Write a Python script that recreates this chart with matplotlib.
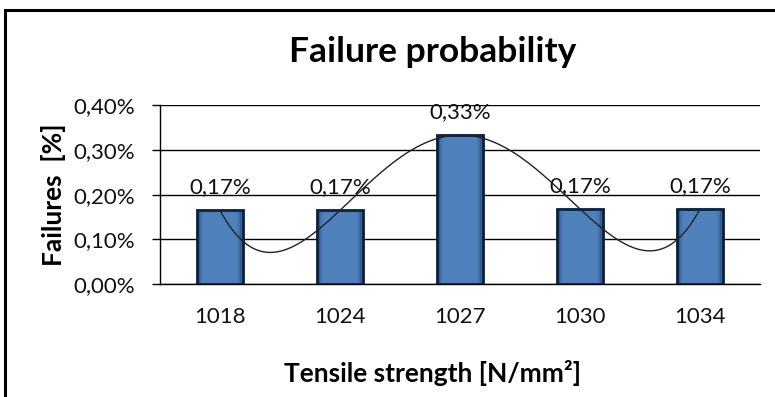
import numpy as np
import matplotlib
matplotlib.use("Agg")
import matplotlib.pyplot as plt
from matplotlib.patches import Rectangle

categories = ["1018", "1024", "1027", "1030", "1034"]
values = [0.165, 0.165, 0.333, 0.168, 0.168]
value_labels = ["0,17%", "0,17%", "0,33%", "0,17%", "0,17%"]
yticks = [0.0, 0.1, 0.2, 0.3, 0.4]
ytick_labels = ["0,00%", "0,10%", "0,20%", "0,30%", "0,40%"]
title = "Failure probability"
xlabel = "Tensile strength [N/mm²]"
ylabel = "Failures  [%]"

W, H = 775, 397
fig = plt.figure(figsize=(W / 100, H / 100), dpi=100)
fig.patch.set_facecolor("white")

ax = fig.add_axes([160 / W, 1 - 284.3 / H, 600 / W, (284.3 - 105) / H])
x = np.arange(len(categories))

ax.set_ylim(0, 0.4)
ax.set_xlim(-0.5, len(categories) - 0.5)
ax.set_yticks(yticks)
ax.set_yticklabels(ytick_labels)
ax.yaxis.grid(True, color="black", linewidth=1.0)
ax.set_axisbelow(True)
for s in ["top", "right"]:
    ax.spines[s].set_visible(False)
ax.spines["left"].set_linewidth(1.0)
ax.spines["bottom"].set_linewidth(1.0)

bars = ax.bar(x, values, width=0.38, color="#4F81BD", edgecolor="#0b1d36",
              linewidth=2.0, zorder=3)
# inner shading (darker rim)
for b in bars:
    for k, a in enumerate([0.35, 0.2, 0.1]):
        pad = 0.012 * (k + 1)
        ax.add_patch(Rectangle((b.get_x() + pad, 0), b.get_width() - 2 * pad,
                               b.get_height() - pad * 0.06,
                               fill=False, edgecolor="#13305a", alpha=a,
                               linewidth=1.5, zorder=3))

# polynomial trendline (order 4) through the data
coef = np.polyfit(x, values, 4)
xs = np.linspace(x[0], x[-1], 300)
ax.plot(xs, np.polyval(coef, xs), color="#222222", linewidth=1.0, zorder=4)

for xi, v, lab in zip(x, values, value_labels):
    ax.annotate(lab, (xi, v), xytext=(0, 12.5), textcoords="offset points",
                ha="center", va="baseline", fontsize=16, family="Lato",
                color="#111111", zorder=5)

ax.set_xticks(x)
ax.set_xticklabels(categories)
ax.tick_params(axis="x", length=0, pad=16, labelsize=16)
ax.tick_params(axis="y", length=6, width=1.0, pad=12, labelsize=16)
for t in ax.get_xticklabels() + ax.get_yticklabels():
    t.set_family("Lato")
    t.set_color("#111111")

fig.text(433 / W, 1 - 382 / H, xlabel, ha="center", va="baseline",
         fontsize=19, fontweight="bold", family="Lato")
fig.text(54 / W, 1 - 195 / H, ylabel, ha="center", va="center", rotation=90,
         fontsize=19, fontweight="bold", family="Lato")
fig.text(433 / W, 1 - 62 / H, title, ha="center", va="baseline",
         fontsize=25.5, fontweight="bold", family="Lato")

# chart border
fig.patches.append(Rectangle((5 / W, -0.1), 1.2, 1 - 10 / H + 0.1,
                             transform=fig.transFigure, fill=False,
                             edgecolor="black", linewidth=2.2))

fig.savefig("out.png", dpi=100)
